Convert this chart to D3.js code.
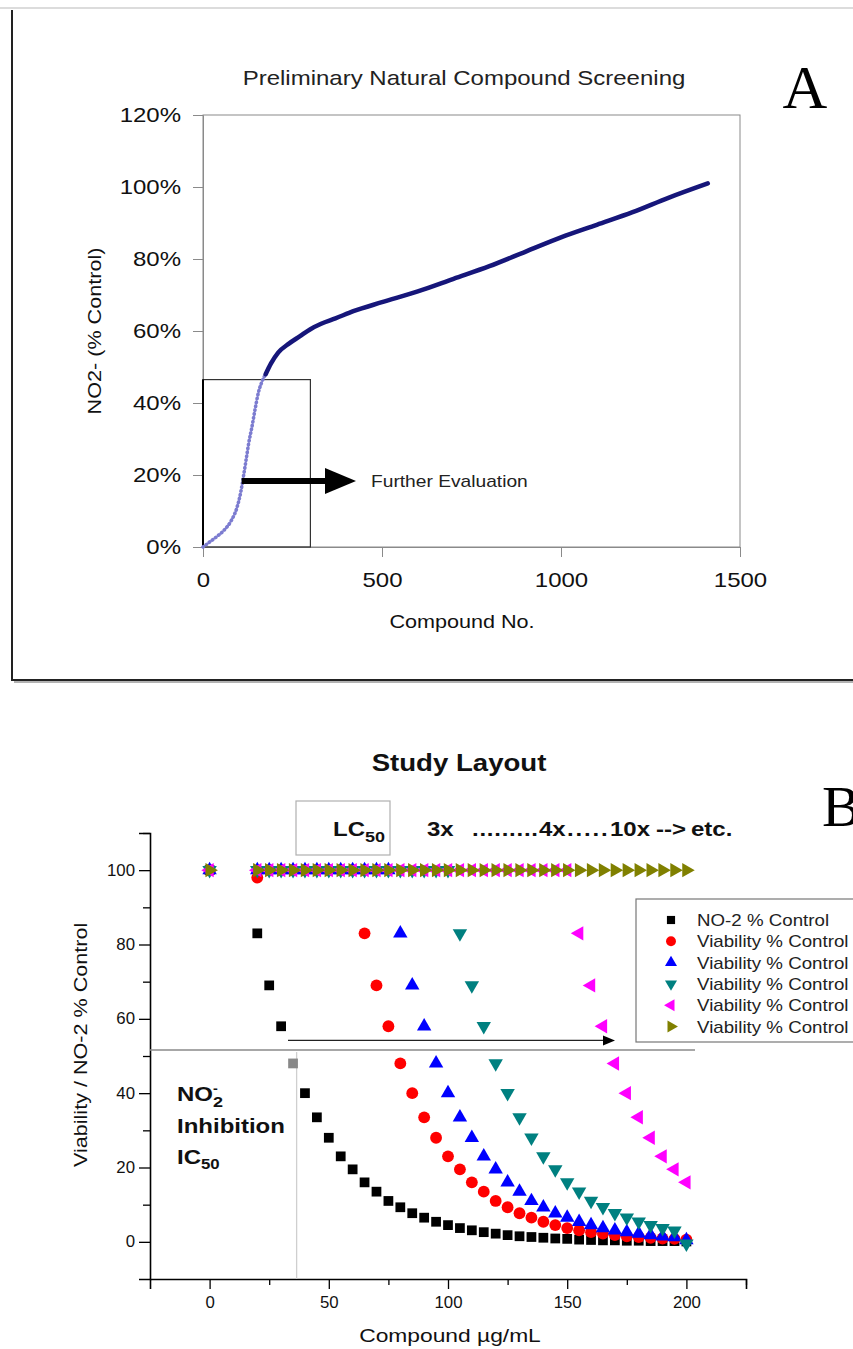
<!DOCTYPE html>
<html>
<head>
<meta charset="utf-8">
<script src="https://cdn.jsdelivr.net/npm/d3@7"></script>
<style>
  body { margin: 0; background: #fff; }
  svg { display: block; font-family: "Liberation Sans", Arial, sans-serif; }
</style>
</head>
<body>
<svg id="chart" width="853" height="1349"></svg>
<script>
// ---- Panel A data: sorted screening curve (compound no., % of control)
const screenLow = [
  [0, 0], [20, 1.5], [40, 3], [60, 4.8], [80, 7.5], [95, 11], [105, 15], [112, 19],
  [120, 24], [128, 29], [136, 33], [145, 38], [155, 43], [165, 46], [175, 48]
];
const screenHigh = [
  [175, 48], [190, 51], [210, 54], [240, 56.5], [270, 58.5], [300, 60.5], [330, 62],
  [370, 63.5], [420, 65.5], [500, 68], [600, 71], [700, 74.5], [800, 78], [900, 82],
  [1000, 86], [1100, 89.5], [1200, 93], [1300, 97], [1410, 101]
];
const aXTicks = [0, 500, 1000, 1500];
const aYTicks = [0, 20, 40, 60, 80, 100, 120];
const evalLimit = [300, 46.5];   // compounds / % kept for further evaluation

// ---- Panel B data: concentration (ug/mL) and % control per series
const doses = [0, 20, 25, 30, 35, 40, 45, 50, 55, 60, 65, 70, 75, 80, 85, 90, 95, 100,
  105, 110, 115, 120, 125, 130, 135, 140, 145, 150, 155, 160, 165, 170, 175, 180,
  185, 190, 195, 200];
const no2Control = [100, 83, 69, 58, 48, 40, 33.5, 28, 23, 19.5, 16, 13.5, 11, 9.3, 7.7,
  6.5, 5.4, 4.5, 3.7, 3.1, 2.6, 2.2, 1.8, 1.5, 1.3, 1.1, 0.9, 0.8, 0.6, 0.5, 0.4, 0.4,
  0.3, 0.3, 0.2, 0.2, 0.2, 0.1];
const viabilityRed = [100, 98, 100, 100, 100, 100, 100, 100, 100, 100, 83, 69, 58, 48, 40,
  33.5, 28, 23, 19.5, 16, 13.5, 11, 9.3, 7.7, 6.5, 5.4, 4.5, 3.7, 3.1, 2.6, 2.2, 1.8,
  1.5, 1.3, 1.1, 0.9, 0.8, 0.6];
const viabilityBlue = [100, 100, 100, 100, 100, 100, 100, 100, 100, 100, 100, 100, 100, 83,
  69, 58, 48, 40, 33.5, 28, 23, 19.5, 16, 13.5, 11, 9.3, 7.7, 6.5, 5.4, 4.5, 3.7, 3.1,
  2.6, 2.2, 1.8, 1.5, 1.3, 0.5];
const viabilityTeal = [100, 100, 100, 100, 100, 100, 100, 100, 100, 100, 100, 100, 100, 100,
  100, 100, 100, 100, 83, 69, 58, 48, 40, 33.5, 28, 23, 19.5, 16, 13.5, 11, 9.3, 7.7,
  6.5, 5.4, 4.5, 3.7, 3, -0.5];
const viabilityMagenta = [100, 100, 100, 100, 100, 100, 100, 100, 100, 100, 100, 100, 100,
  100, 100, 100, 100, 100, 100, 100, 100, 100, 100, 100, 100, 100, 100, 100, 83, 69, 58,
  48, 40, 33.5, 28, 23, 19.5, 16];
const viabilityOlive = [100, 100, 100, 100, 100, 100, 100, 100, 100, 100, 100, 100, 100,
  100, 100, 100, 100, 100, 100, 100, 100, 100, 100, 100, 100, 100, 100, 100, 100, 100,
  100, 100, 100, 100, 100, 100, 100, 100];
const seriesNames = ['NO-2 % Control', 'Viability % Control', 'Viability % Control',
  'Viability % Control', 'Viability % Control', 'Viability % Control'];
const bXTicks = [0, 50, 100, 150, 200];
const bXMinor = [25, 75, 125, 175, 225];
const bYTicks = [0, 20, 40, 60, 80, 100];
const bYMinor = [10, 30, 50, 70, 90, 110];
const ic50Dose = 36.5;
const ic50Level = 51.6;

// the source figure is a little wider than tall, so text is stretched sideways
const K = 1.2;

const svg = d3.select('#chart');

function label(parent, o) {
  const t = parent.append('text')
    .attr('transform', `translate(${o.x},${o.y}) rotate(${o.rot || 0}) scale(${o.k || K},1)`)
    .attr('text-anchor', o.anchor || 'start')
    .style('font-size', o.size + 'px')
    .style('font-weight', o.bold ? 'bold' : 'normal')
    .attr('fill', o.fill || '#111');
  if (o.text) t.text(o.text);
  if (o.family) t.style('font-family', o.family);
  if (o.len) t.attr('textLength', o.len).attr('lengthAdjust', 'spacing');
  return t;
}

function stretchTicks(g, k, size) {
  g.selectAll('.tick text').each(function() {
    const t = d3.select(this);
    const x = +t.attr('x') || 0;
    t.attr('x', x / k).attr('transform', `scale(${k},1)`)
      .style('font-size', size + 'px').attr('fill', '#111');
  });
}

// ================= Panel A =================
svg.append('line').attr('x1', 0).attr('x2', 853).attr('y1', 8).attr('y2', 8)
  .attr('stroke', '#d0d0d0').attr('stroke-width', 1.5);
svg.append('path').attr('d', 'M12,10V680H853')
  .attr('fill', 'none').attr('stroke', '#222').attr('stroke-width', 2);
svg.append('path').attr('d', 'M14,682H853')
  .attr('fill', 'none').attr('stroke', '#999').attr('stroke-width', 1.5);

const ax = d3.scaleLinear().domain([0, 1500]).range([203, 740]);
const ay = d3.scaleLinear().domain([0, 120]).range([547, 115]);

const panelA = svg.append('g').attr('class', 'panel-a');

panelA.append('rect')
  .attr('x', ax(0)).attr('y', ay(120))
  .attr('width', ax(1500) - ax(0)).attr('height', ay(0) - ay(120))
  .attr('fill', 'none').attr('stroke', '#8a8a8a');

const aXAxis = panelA.append('g')
  .attr('transform', `translate(0,${ay(0)})`)
  .call(d3.axisBottom(ax).tickValues(aXTicks).tickSize(10).tickPadding(16).tickFormat(d3.format('d')));
const aYAxis = panelA.append('g')
  .attr('transform', `translate(${ax(0)},0)`)
  .call(d3.axisLeft(ay).tickValues(aYTicks).tickSize(10).tickPadding(12).tickFormat(d => d + '%'));
[aXAxis, aYAxis].forEach(g => {
  g.select('.domain').attr('stroke', '#8a8a8a');
  g.selectAll('.tick line').attr('stroke', '#8a8a8a');
  stretchTicks(g, K, 20);
});

// selected region for further evaluation
panelA.append('rect')
  .attr('x', ax(0)).attr('y', ay(evalLimit[1]))
  .attr('width', ax(evalLimit[0]) - ax(0)).attr('height', ay(0) - ay(evalLimit[1]))
  .attr('fill', 'none').attr('stroke', '#333').attr('stroke-width', 1.2);
panelA.append('line')
  .attr('x1', ax(0)).attr('x2', ax(0)).attr('y1', ay(evalLimit[1])).attr('y2', ay(0))
  .attr('stroke', '#000').attr('stroke-width', 2);

const lineA = d3.line().x(d => ax(d[0])).y(d => ay(d[1])).curve(d3.curveMonotoneX);
panelA.append('path').datum(screenLow)
  .attr('d', lineA).attr('fill', 'none')
  .attr('stroke', '#7c7cd0').attr('stroke-width', 3.6)
  .attr('stroke-linecap', 'round').attr('stroke-dasharray', '0.5,3.4');
panelA.append('path').datum(screenHigh)
  .attr('d', lineA).attr('fill', 'none')
  .attr('stroke', '#16167a').attr('stroke-width', 4.5).attr('stroke-linecap', 'round');

// arrow to "Further Evaluation"
const arrowY = ay(18.3);
panelA.append('line')
  .attr('x1', ax(108)).attr('x2', 327).attr('y1', arrowY).attr('y2', arrowY)
  .attr('stroke', '#000').attr('stroke-width', 6);
panelA.append('path')
  .attr('d', `M325,${arrowY - 13}L356,${arrowY}L325,${arrowY + 13}Z`).attr('fill', '#000');
label(panelA, { x: 371, y: arrowY + 6, size: 16, fill: '#222', text: 'Further Evaluation' });

label(panelA, { x: 464, y: 85, size: 20, anchor: 'middle', fill: '#222',
  text: 'Preliminary Natural Compound Screening' });
label(panelA, { x: 462, y: 628, size: 18, anchor: 'middle', text: 'Compound No.' });
label(panelA, { x: 101, y: ay(60), rot: -90, size: 18, anchor: 'middle', text: 'NO2-  (% Control)' });
label(panelA, { x: 805, y: 108, size: 62, anchor: 'middle', fill: '#000', k: 1,
  family: '"Liberation Serif", "DejaVu Serif", serif', text: 'A' });

// ================= Panel B =================
const bx = d3.scaleLinear().domain([-25, 225]).range([150, 746]);
const by = d3.scaleLinear().domain([-10, 110]).range([1279, 833]);

const panelB = svg.append('g').attr('class', 'panel-b');

label(panelB, { x: 459, y: 771, size: 23, bold: true, anchor: 'middle', text: 'Study Layout' });
label(panelB, { x: 822, y: 826, size: 58, fill: '#000', k: 1,
  family: '"Liberation Serif", "DejaVu Serif", serif', text: 'B' });

// LC50 box and dose-multiplier note
panelB.append('rect')
  .attr('x', 296).attr('y', 801).attr('width', 94).attr('height', 54)
  .attr('fill', 'none').attr('stroke', '#b0b0b0').attr('stroke-width', 1.2);
const lcText = label(panelB, { x: 333, y: 836, size: 20, bold: true });
lcText.append('tspan').text('LC');
lcText.append('tspan').attr('dy', 6).style('font-size', '15px').text('50');
label(panelB, { x: 427, y: 836, size: 20, bold: true, text: '3x' });
label(panelB, { x: 472, y: 836, size: 20, bold: true, len: 55, text: '.........' });
label(panelB, { x: 539, y: 836, size: 20, bold: true, text: '4x' });
label(panelB, { x: 567, y: 836, size: 20, bold: true, len: 34, text: '.....' });
label(panelB, { x: 610, y: 836, size: 20, bold: true, text: '10x' });
label(panelB, { x: 656, y: 836, size: 20, bold: true, text: '-->' });
label(panelB, { x: 691, y: 836, size: 20, bold: true, text: 'etc.' });

// axes
const bXAxis = panelB.append('g')
  .attr('transform', `translate(0,${by(-10)})`)
  .call(d3.axisBottom(bx).tickValues(bXTicks).tickSize(10).tickPadding(8).tickFormat(d3.format('d')));
panelB.append('g')
  .attr('transform', `translate(0,${by(-10)})`)
  .call(d3.axisBottom(bx).tickValues(bXMinor).tickSize(6).tickFormat(''))
  .select('.domain').remove();
const bYAxis = panelB.append('g')
  .attr('transform', `translate(${bx(-25)},0)`)
  .call(d3.axisLeft(by).tickValues(bYTicks).tickSize(11).tickPadding(4).tickFormat(d3.format('d')));
panelB.append('g')
  .attr('transform', `translate(${bx(-25)},0)`)
  .call(d3.axisLeft(by).tickValues(bYMinor).tickSize(7).tickFormat(''))
  .select('.domain').remove();
panelB.selectAll('.domain').attr('stroke', '#000').attr('stroke-width', 1.6);
panelB.selectAll('.tick line').attr('stroke', '#000').attr('stroke-width', 1.3);
stretchTicks(bXAxis, 1.05, 16);
stretchTicks(bYAxis, 1.05, 16);

label(panelB, { x: 450, y: 1342, size: 19, anchor: 'middle', text: 'Compound \u00b5g/mL' });
label(panelB, { x: 87, y: by(53), rot: -90, size: 18, anchor: 'middle', text: 'Viability / NO-2 % Control' });

// IC50 guide lines
panelB.append('line')
  .attr('x1', bx(-25)).attr('x2', 695).attr('y1', by(ic50Level)).attr('y2', by(ic50Level))
  .attr('stroke', '#8a8a8a').attr('stroke-width', 1.6);
panelB.append('line')
  .attr('x1', bx(ic50Dose)).attr('x2', bx(ic50Dose)).attr('y1', by(ic50Level) + 2).attr('y2', by(-10))
  .attr('stroke', '#cfcfcf').attr('stroke-width', 1.3);

// dose escalation arrow
const escY = by(54.2);
panelB.append('line')
  .attr('x1', 288).attr('x2', 606).attr('y1', escY).attr('y2', escY)
  .attr('stroke', '#222').attr('stroke-width', 1.3);
panelB.append('path')
  .attr('d', `M603,${escY - 5}L615,${escY}L603,${escY + 5}Z`).attr('fill', '#000');

const no2Text = label(panelB, { x: 177, y: 1101, size: 20, bold: true });
no2Text.append('tspan').text('NO');
no2Text.append('tspan').attr('dy', -8).style('font-size', '12px').text('-');
no2Text.append('tspan').attr('dy', 14).attr('dx', -4).style('font-size', '15px').text('2');
label(panelB, { x: 177, y: 1133, size: 20, bold: true, text: 'Inhibition' });
const icText = label(panelB, { x: 177, y: 1164, size: 20, bold: true });
icText.append('tspan').text('IC');
icText.append('tspan').attr('dy', 5).style('font-size', '14px').text('50');

// series markers
const series = [
  { name: seriesNames[0], values: no2Control, color: '#000000', type: d3.symbolSquare, rot: 0, size: 95 },
  { name: seriesNames[1], values: viabilityRed, color: '#ff0000', type: d3.symbolCircle, rot: 0, size: 110 },
  { name: seriesNames[2], values: viabilityBlue, color: '#0000ff', type: d3.symbolTriangle, rot: 0, size: 90 },
  { name: seriesNames[3], values: viabilityTeal, color: '#008080', type: d3.symbolTriangle, rot: 180, size: 90 },
  { name: seriesNames[4], values: viabilityMagenta, color: '#ff00ff', type: d3.symbolTriangle, rot: -90, size: 90 },
  { name: seriesNames[5], values: viabilityOlive, color: '#808000', type: d3.symbolTriangle, rot: 90, size: 90 }
];

series.forEach(s => {
  panelB.append('g').selectAll('path')
    .data(doses.map((d, i) => ({ dose: d, value: s.values[i] })))
    .enter()
    .append('path')
    .attr('d', d3.symbol().type(s.type).size(s.size))
    .attr('transform', d => `translate(${bx(d.dose)},${by(d.value)}) rotate(${s.rot})`)
    .attr('fill', d => (s.type === d3.symbolSquare && d.dose === 35) ? '#888' : s.color);
});

// legend
const legend = panelB.append('g').attr('transform', 'translate(636,899)');
legend.append('rect')
  .attr('width', 230).attr('height', 143)
  .attr('fill', '#fff').attr('stroke', '#777').attr('stroke-width', 1.2);
series.forEach((s, i) => {
  const row = legend.append('g').attr('transform', `translate(0,${21 + i * 21.3})`);
  row.append('path')
    .attr('d', d3.symbol().type(s.type).size(s.size * 0.7))
    .attr('transform', `translate(35,0) rotate(${s.rot})`)
    .attr('fill', s.color);
  label(row, { x: 61, y: 6, size: 16, k: 1.17, fill: '#222', text: s.name });
});
</script>
</body>
</html>
